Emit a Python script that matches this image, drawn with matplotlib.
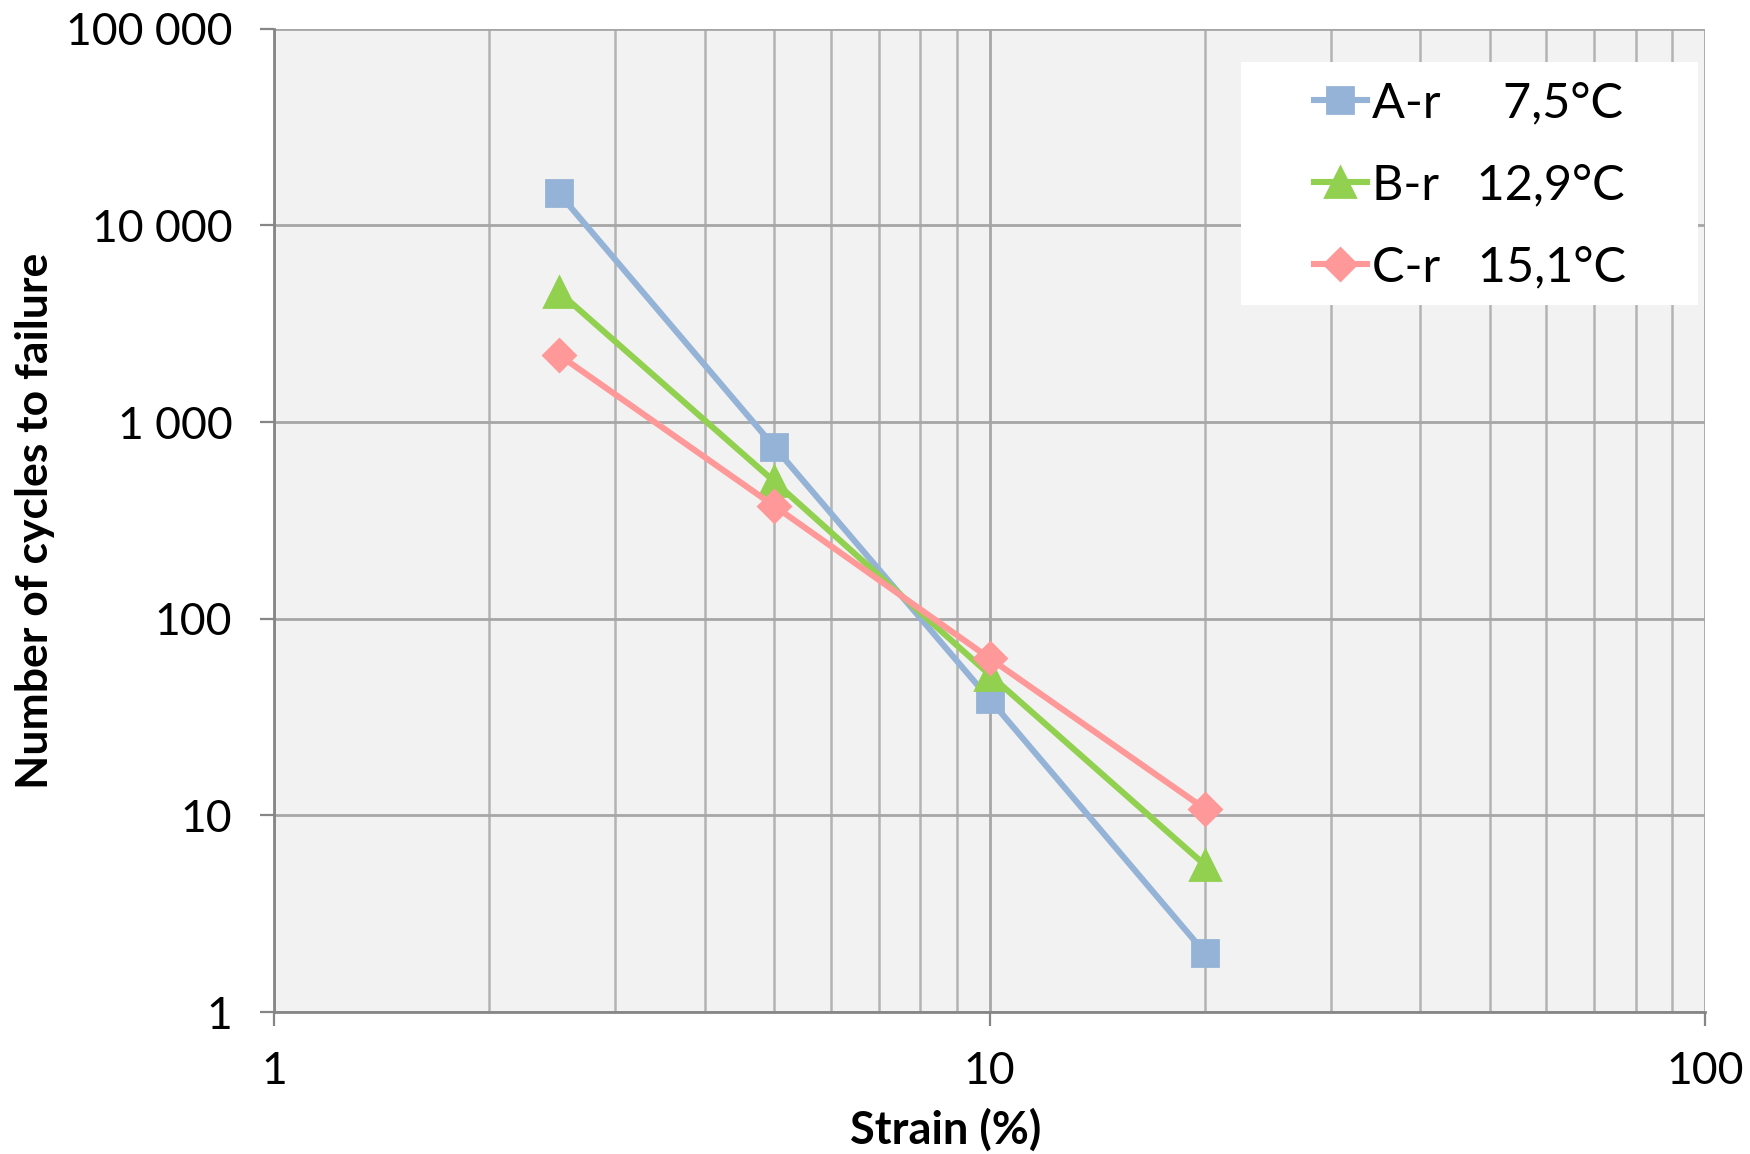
import matplotlib.pyplot as plt
from matplotlib.patches import Rectangle
from matplotlib.ticker import FixedLocator, FuncFormatter, LogLocator, NullFormatter

plt.rcParams['font.family'] = ['Lato', 'DejaVu Sans']

strain = [2.5, 5, 10, 20]
cycles_a = [14600, 750, 39, 2.0]
cycles_b = [4600, 500, 52, 5.6]
cycles_c = [2200, 375, 63, 10.8]
labels = ['A-r     7,5°C', 'B-r   12,9°C', 'C-r   15,1°C']


def spaced(v, pos):
    return f'{v:,.0f}'.replace(',', ' ')


fig = plt.figure(figsize=(8.75, 5.77), dpi=200)
ax = fig.add_axes([0.1566, 0.123, 0.8177, 0.852])
ax.set_facecolor('#F2F2F2')

ax.plot(strain, cycles_a, color='#95B3D7', lw=2.2, marker='s', ms=9.5, label=labels[0], zorder=3)
ax.plot(strain, cycles_b, color='#92D050', lw=2.2, marker='^', ms=10.5, label=labels[1], zorder=3)
ax.plot(strain, cycles_c, color='#FF9999', lw=2.2, marker='D', ms=8, label=labels[2], zorder=3)

ax.set_xscale('log')
ax.set_yscale('log')
ax.set_xlim(1, 100)
ax.set_ylim(1, 100000)

ax.xaxis.set_major_locator(FixedLocator([1, 10, 100]))
ax.xaxis.set_minor_locator(LogLocator(base=10, subs=range(2, 10)))
ax.xaxis.set_minor_formatter(NullFormatter())
ax.xaxis.set_major_formatter(FuncFormatter(spaced))
ax.yaxis.set_major_locator(FixedLocator([1, 10, 100, 1000, 10000, 100000]))
ax.yaxis.set_minor_locator(FixedLocator([]))
ax.yaxis.set_major_formatter(FuncFormatter(spaced))

ax.grid(True, which='major', color='#A6A6A6', lw=1.0)
ax.grid(True, which='minor', axis='x', color='#B3B3B3', lw=0.9)
ax.set_axisbelow(True)

for s in ['top', 'right']:
    ax.spines[s].set_visible(False)
for s in ['left', 'bottom']:
    ax.spines[s].set_color('#868686')
    ax.spines[s].set_linewidth(1.0)
ax.tick_params(which='major', length=5, color='#868686', labelsize=16)
ax.tick_params(axis='y', pad=10)
ax.tick_params(axis='x', pad=9)
ax.tick_params(which='minor', length=0)

ax.set_xlabel('Strain (%)', fontsize=16.3, fontweight='bold')
ax.xaxis.set_label_coords(0.469, -0.098)
ax.set_ylabel('Number of cycles to failure', fontsize=16, fontweight='bold')
ax.yaxis.set_label_coords(-0.153, 0.5)

# white legend panel, wider than the entries themselves
ax.add_patch(Rectangle((0.6758, 0.7196), 0.3195, 0.2464, transform=ax.transAxes,
                       facecolor='white', edgecolor='none', zorder=2))
ax.legend(loc='center', bbox_to_anchor=(0.8356, 0.841), fontsize=17.5,
          frameon=False, handlelength=1.1, handletextpad=0.1,
          labelspacing=0.78, borderpad=0, borderaxespad=0)

fig.savefig('out.png', dpi=200)
